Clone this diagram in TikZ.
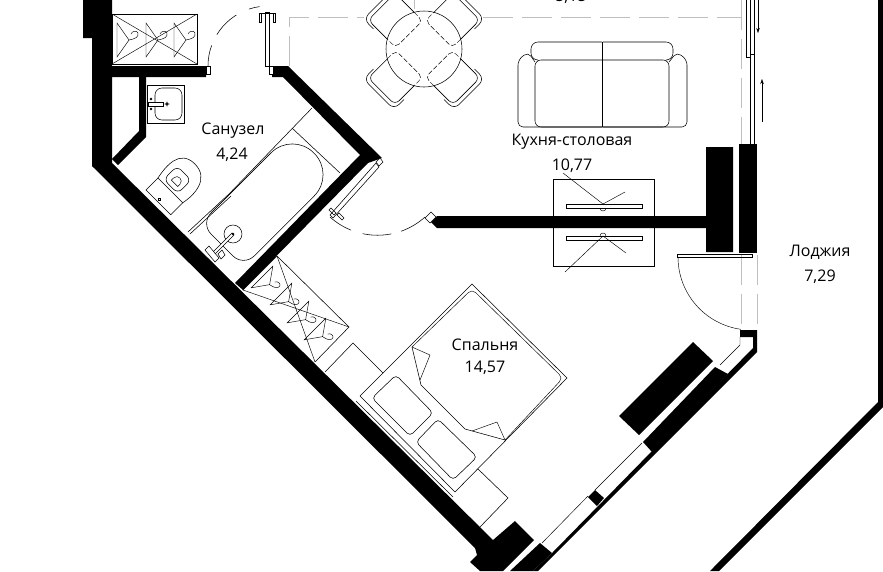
\documentclass[tikz,border=0pt]{standalone}
\usepackage{fontspec}
\setmainfont{Open Sans}
\usetikzlibrary{arrows.meta}
\tikzset{
  wall/.style={fill=black,draw=none},
  thin/.style={draw=black,line width=0.55pt},
  hair/.style={draw=black,line width=0.45pt},
  guide/.style={draw=black!25,line width=0.8pt,dash pattern=on 30pt off 9pt},
  label/.style={font=\fontsize{16}{18}\selectfont,text=black,inner sep=0pt},
  jamb/.style={fill=white,draw=black,line width=0.5pt},
  hanger/.pic={
    \draw[hair] (0,-17) -- (0,17) -- (12,0) -- cycle;
    \draw[hair] (12,0) .. controls (18,-1) and (22,-3) .. (21,-7) .. controls (20,-10) and (15,-9) .. (14,-6);
  },
  chair/.pic={
    \draw[thin,rounded corners=6pt] (33,19) -- (60,19) -- (60,-19) -- (33,-19);
    \draw[thin,rounded corners=7pt] (50,21.5) -- (64,21.5) -- (64,-21.5) -- (50,-21.5);
    \draw[hair,dash pattern=on 5pt off 2pt,rounded corners=5pt] (33,19) -- (21,19) -- (21,-19) -- (33,-19);
  }
}
\begin{document}
\begin{tikzpicture}[x=1pt,y=-1pt]
\useasboundingbox (0,0) rectangle (883,571);
\fill[white] (0,0) rectangle (883,571);
% guides
\draw[guide] (289,66) -- (289,17) -- (364,17);
\draw[guide] (483,17) -- (741,17);
\draw[guide] (741,0) -- (741,144);
\draw[guide] (741,255) -- (741,330);
\draw[guide] (757,255) -- (757,330);
\draw[draw=black!25,line width=.6pt] (414,0) -- (414,9);
% walls
\fill[wall] (83,0) -- (112,0) -- (112,66) -- (206,66) -- (206,77) -- (112,77) -- (112,163) -- (493,540) -- (515,521) -- (534,540) -- (503,571) -- (480,571) -- (470,562) -- (477,555) -- (475,548) -- (92,166) -- (92,38) -- (83,38) -- cycle;
\fill[wall] (139,77) -- (146,77) -- (146,137) -- (118,165) -- (112,159) -- (139,131) -- cycle;
\fill[wall] (272,66) -- (288,66) -- (382,158) -- (368,163) -- (243,290) -- (235,283) -- (360,155) -- (283,77) -- (272,77) -- cycle;
\fill[wall] (437,216) -- (706,216) -- (706,147) -- (733,147) -- (733,252) -- (706,252) -- (706,228) -- (437,228) -- (431,222) -- cycle;
\fill[wall] (739,144) -- (757,144) -- (757,253) -- (739,253) -- cycle;
\fill[wall] (878,0) -- (883,0) -- (883,407) -- (719,571) -- (710,571) -- (878,402) -- cycle;
\fill[wall] (740,330) -- (757,330) -- (757,352) -- (538,571) -- (533,571) -- (552,553) -- (753,348) -- (753,337) -- (740,337) -- cycle;
\fill[wall] (715,367) -- (728,374) -- (652,452) -- (643,442) -- cycle;
\fill[wall] (595,490) -- (604,498) -- (597,506) -- (588,497) -- cycle;
\fill[wall] (540,543) -- (552,553) -- (533,571) -- (510,571) -- cycle;
\fill[wall] (693,342) -- (713,361) -- (639,435) -- (619,416) -- cycle;
% window lines
\draw[hair] (740,337) -- (740,345) -- (720,365);
\draw[hair] (642,443) -- (595,490);
\draw[hair] (588,496) -- (542,543);
\draw[thin] (746,0) -- (746,57) -- (750,57);
\draw[thin] (750,0) -- (750,144);
\draw[thin] (754,0) -- (754,144);
\draw[thin] (750,54) -- (754,54);
\draw[hair,-{Stealth[length=5pt,width=3.5pt]}] (758,0) -- (758,33);
\draw[hair,-{Stealth[length=5pt,width=3.5pt]}] (762,122) -- (762,79);
% loggia door
\draw[thin] (677,254) rectangle (752,257);
\draw[hair] (678,257) arc[start angle=180,end angle=262,radius=73pt];
% closet top
\draw[thin] (112,14) rectangle (197,64);
\draw[hair] (112,14) -- (197,64) (112,64) -- (197,14);
\path (117,40) pic {hanger} (146,40) pic {hanger} (174,40) pic {hanger};
% basin
\draw[thin] (147,85) rectangle (184,123);
\draw[thin,rounded corners=7pt] (155,88) rectangle (182,120);
\draw[thin,fill=white] (148,102) rectangle (163,106);
\fill (151,99) circle (1.3pt) (151,109) circle (1.3pt);
\draw[hair] (167,104) circle (1.5pt) (164,104) -- (170,104) (167,101) -- (167,107);
% toilet
\begin{scope}[shift={(170,190)},rotate=45]
  \draw[thin] (-17,-17) rectangle (0,18);
  \draw[thin] (0,-17) .. controls (14,-20) and (36,-22) .. (36,-1) .. controls (36,20) and (14,21) .. (0,18);
  \draw[thin,rounded corners=6pt] (3,-12) rectangle (22,8);
  \draw[hair] (8,-6) -- (8,3) -- (11,3) .. controls (17,3) and (17,-6) .. (11,-6) -- cycle;
  \draw[hair] (-14,-1) circle (1.5pt);
\end{scope}
% bath
\begin{scope}[shift={(222,245)},rotate=45]
  \draw[thin,rounded corners=15pt] (40,-30.5) -- (0,-30.5) -- (0,30.5) -- (40,30.5);
  \draw[thin,rounded corners=30pt] (40,30.5) -- (130,30.5) -- (130,-30.5) -- (40,-30.5);
\end{scope}
\draw[thin] (188,232) -- (229,194) (190,234) -- (231,196);
\draw[thin] (229,194) -- (312,108);
\draw[thin] (292,128) -- (340,173);
\draw[thin] (233,234) circle (9pt);
\draw[thin,fill=white] (232,233) -- (234,235) -- (214,255) -- (212,253) -- cycle;
\fill (233,234) circle (1.4pt);
\draw[thin,fill=white] (205,250) -- (209,246) -- (219,258) -- (215,262) -- cycle;
\draw[thin,fill=white] (218,254) -- (222,250) -- (225,255) -- (221,259) -- cycle;
% bath door
\draw[thin] (265,12) rectangle (269,66);
\draw[thin] (259,13) -- (275,13);
\draw[hair] (259,13) rectangle (261,22) (273,13) rectangle (275,22);
\draw[jamb] (206,66) rectangle (210,74);
\draw[jamb] (269,66) rectangle (273,74);
\draw[thin,dash pattern=on 21pt off 12pt on 28pt off 14pt on 14pt] (208,66) arc[start angle=180,end angle=98,radius=60pt];
% bedroom door
\draw[thin] (376,163) -- (330,215) -- (333,218) -- (379,167) -- cycle;
\draw[jamb] (376,162) -- (380,158) -- (383,162) -- (379,166) -- cycle;
\draw[hair] (331,208) -- (336,213) -- (334,215) -- (329,210) -- cycle;
\draw[hair] (339,213) -- (344,218) -- (342,220) -- (337,215) -- cycle;
\draw[thin,dash pattern=on 25pt off 12pt on 29pt off 10pt on 30pt] (330,217) arc[start angle=228,end angle=312,radius=71pt];
\draw[jamb] (425,218) -- (431,212) -- (436,217) -- (430,223) -- cycle;
% dining
\path[shift={(424,49)}] (0,0) pic[rotate=45] {chair} (0,0) pic[rotate=135] {chair} (0,0) pic[rotate=-135] {chair} (0,0) pic[rotate=-45] {chair};
\draw[thin] (424,49) circle (38pt);
% sofa
\draw[thin,rounded corners=5pt] (535,62) -- (528,52) -- (518,60) -- (518,127) -- (687,127) -- (687,60) -- (677,52) -- (669,62);
\draw[thin,rounded corners=7pt] (602,42) -- (531,42) -- (531,60) -- (537,60);
\draw[thin,rounded corners=7pt] (603,42) -- (673,42) -- (673,60) -- (667,60);
\draw[thin,rounded corners=6pt] (602,127) -- (535,127) -- (535,60) -- (602,60);
\draw[thin,rounded corners=6pt] (603,127) -- (669,127) -- (669,60) -- (603,60);
\draw[thin] (602.5,42) -- (602.5,127);
% tv
\draw[thin] (553,216) -- (553,179) -- (654,179) -- (654,216);
\draw[thin] (553,228) -- (553,266) -- (654,266) -- (654,228);
\draw[thin] (566,204) rectangle (642,208);
\draw[thin] (566,236) rectangle (642,240);
\draw[hair] (600,208) arc[start angle=180,end angle=360,radius=3pt];
\draw[hair] (600,236) arc[start angle=180,end angle=0,radius=3pt];
\draw[hair] (563,173) -- (603,204) -- (625,192);
\draw[hair] (565,272) -- (603,236) -- (626,253);
% closet lower
\draw[thin] (243,290) -- (277,256) -- (349,327) -- (315,362);
\draw[hair] (277,256) -- (315,362) (243,290) -- (349,327);
\path (262,277) pic[rotate=-45,scale=.9] {hanger};
\path (281,294) pic[rotate=-45,scale=.9] {hanger};
\path (298,312) pic[rotate=-45,scale=.9] {hanger};
\path (315,329) pic[rotate=-45,scale=.9] {hanger};
% nightstands
\draw[thin] (325,372) -- (353,343) -- (383,373);
\draw[thin] (478,469) -- (508,498) -- (480,527);
% bed
\draw[thin] (356,401) -- (453,497) (360,396) -- (455,492);
\draw[thin] (360,396) -- (472,284) -- (567,378) -- (455,492);
\draw[hair,rounded corners=5pt] (412,347) -- (472,289) -- (563,378) -- (505,440);
\draw[thin] (412,347) -- (421,385) -- (465,429) -- (505,440);
\draw[hair] (412,347) -- (430,355) -- (420,380);
\draw[hair] (472,431) -- (497,422) -- (505,440);
\draw[thin,rounded corners=4pt] (396,375) -- (433,413) -- (410,436) -- (372,398) -- cycle;
\draw[thin,rounded corners=4pt] (438,419) -- (477,457) -- (453,480) -- (416,442) -- cycle;
% texts
\node[label] (lbath) at (233,130.5) {Санузел};
\node[label] (lbathv) at (232,154.5) {4,24};
\node[label] (lkit) at (572,141.5) {Кухня-столовая};
\node[label] (lkitv) at (572,165.5) {10,77};
\node[label] (llog) at (820,252.5) {Лоджия};
\node[label] (llogv) at (820,276.5) {7,29};
\node[label] (lbed) at (485,344.5) {Спальня};
\node[label] (lbedv) at (485,367.5) {14,57};
\node[label] (ltop) at (571,-3) {5,15};
\end{tikzpicture}
\end{document}
